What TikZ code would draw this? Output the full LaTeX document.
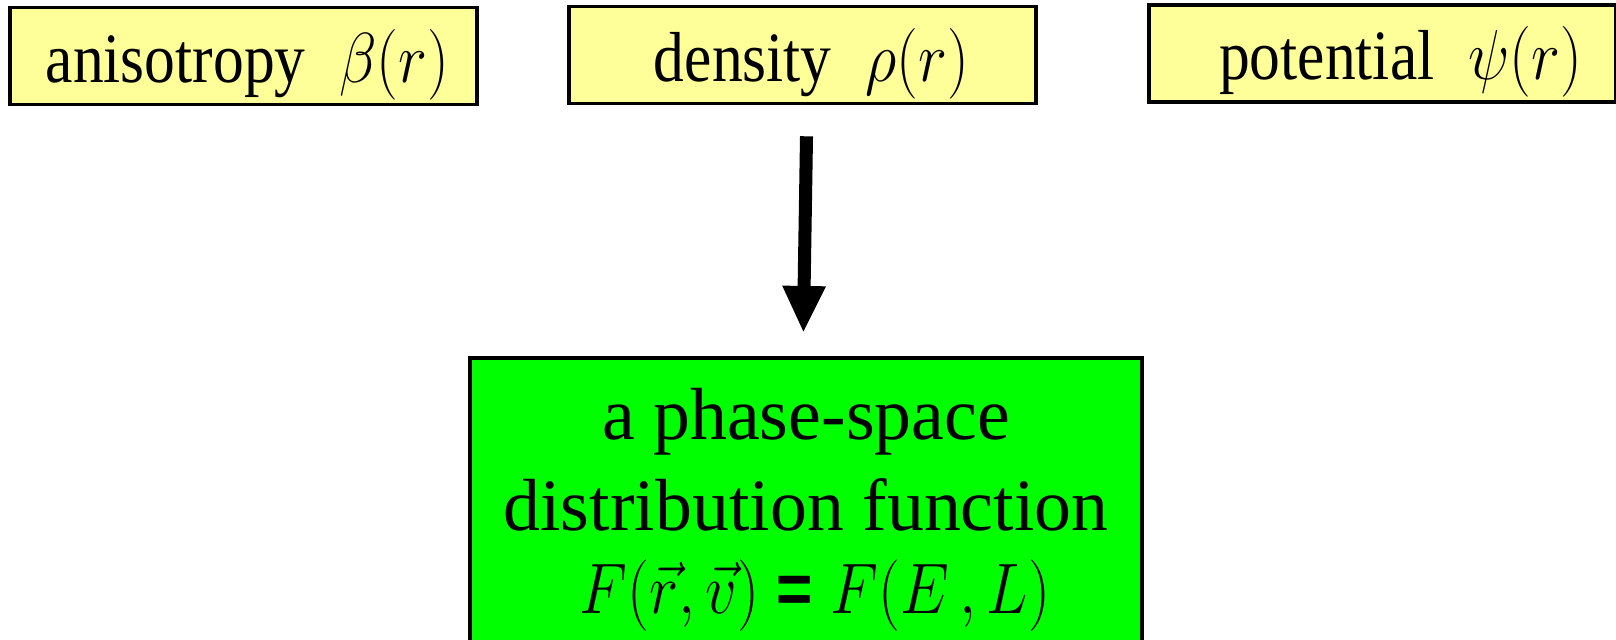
\documentclass[tikz,border=0pt]{standalone}
\usepackage{fix-cm}
\usepackage{fontspec}
\setmainfont{Liberation Serif}
\newfontfamily\eqfont{Liberation Sans}
\usepackage{amsmath}
\usepackage{graphicx}
\usepackage{xcolor}
\usetikzlibrary{arrows.meta, positioning}
\definecolor{inputyellow}{HTML}{FFFF99}
\definecolor{dfgreen}{HTML}{00FF00}
\newcommand{\tall}[1]{\scalebox{1}[1.15]{#1}}

\begin{document}
\begin{tikzpicture}[
    x=0.01cm, y=0.01cm,
    % Styles for the boxes
    inputbox/.style={draw=black, line width=1pt, fill=inputyellow,
        minimum width=4.67cm, minimum height=0.97cm, inner sep=0pt,
        text height=0.52cm, text depth=0pt,
        font=\fontsize{17.5}{20}\selectfont},
    resultbox/.style={draw=black, line width=1pt, fill=dfgreen,
        minimum width=6.72cm, minimum height=3.04cm, align=center,
        font=\fontsize{21}{25.9}\selectfont},
    flow/.style={line width=3.7pt, -{Triangle[width=0.4cm, length=0.47cm]}}
]
    \useasboundingbox (0,0) rectangle (1616,639);
    \clip (0,0) rectangle (1616,639);

    % 1. The three inputs
    \node[inputbox] (aniso) at (243.5,583)
        {\tall{\hspace{0.08cm}anisotropy\hspace{0.55em}$\beta(r)$}};
    \node[inputbox] (dens) at (802.5,584)
        {\tall{\hspace{0.18cm}density\hspace{0.55em}$\rho(r)$}};
    \node[inputbox] (pot) at (1382.5,585.5)
        {\tall{\hspace{0.36cm}potential\hspace{0.55em}$\psi(r)$}};

    % 2. The distribution function
    \node[resultbox, anchor=north] (df) at (806,283)
        {a phase-space\\distribution function\\[-2.5pt]
         \hspace{0.18cm}\fontsize{17.7}{20}\selectfont
         \tall{$F(\vec{r},\vec{v}) \mathrel{\hbox{\eqfont\bfseries =}} F(E\,,L)$}};

    % 3. From density to F
    \draw[flow, shorten <=0.31cm, shorten >=0.23cm]
        ([xshift=0.045cm]dens.south) -- ([xshift=-0.03cm]df.north);

\end{tikzpicture}
\end{document}
